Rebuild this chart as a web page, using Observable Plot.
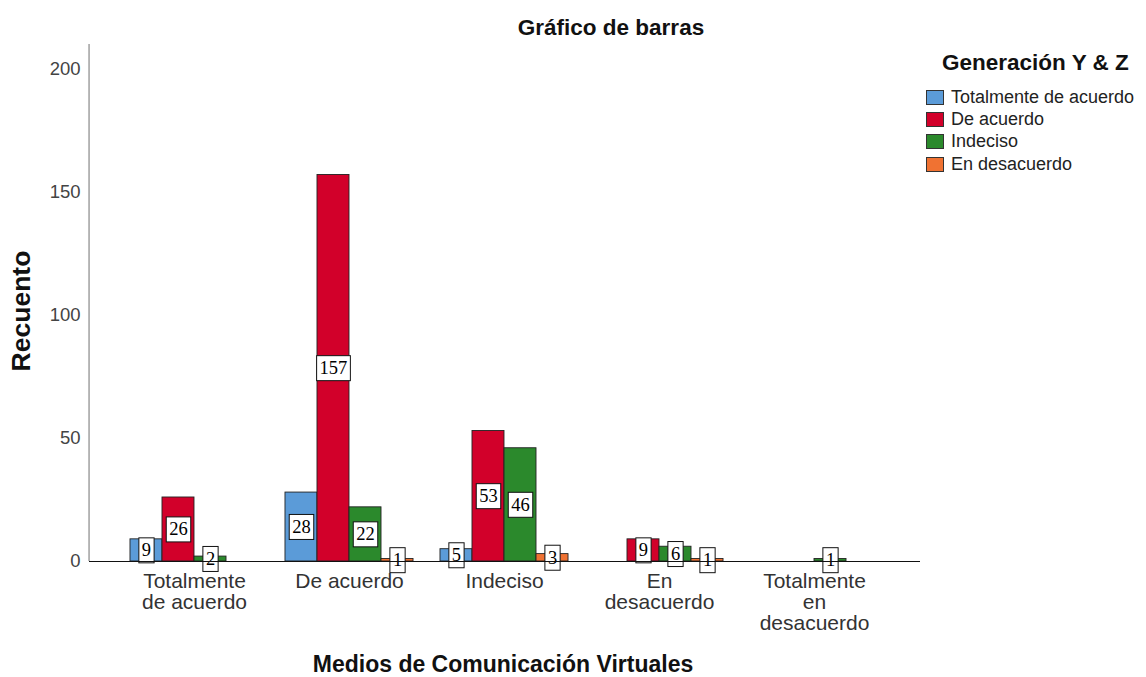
<!DOCTYPE html>
<html>
<head>
<meta charset="utf-8">
<script src="https://cdn.jsdelivr.net/npm/d3@7"></script>
<script src="https://cdn.jsdelivr.net/npm/@observablehq/plot@0.6"></script>
<style>
  html, body { margin: 0; padding: 0; background: #fff; }
  #wrap { position: relative; width: 1146px; height: 677px; overflow: hidden; font-family: "Liberation Sans", Arial, sans-serif; }
  .abs { position: absolute; white-space: nowrap; color: #111; }
  .lbl-box { fill: #fff; stroke: #111; stroke-width: 1; }
</style>
</head>
<body>
<div id="wrap">
  <div id="chart"></div>
  <div class="abs" id="title" style="left:511px; width:200px; top:17px; font-size:22.5px; line-height:22px; font-weight:bold; text-align:center;">Gráfico de barras</div>
  <div class="abs" id="ylab" style="left:21px; top:311px; font-size:26.5px; font-weight:bold; transform: translate(-50%,-50%) rotate(-90deg);">Recuento</div>
  <div class="abs" id="xlab" style="left:283px; width:440px; top:652px; font-size:23px; line-height:24px; font-weight:bold; text-align:center;">Medios de Comunicación Virtuales</div>
  <div class="abs" id="legend" style="left:926px; top:50px;"></div>
</div>
<script>
// ---- data ----
const categories = ["Totalmente de acuerdo", "De acuerdo", "Indeciso", "En desacuerdo", "Totalmente en desacuerdo"];
const categoryLabels = ["Totalmente\nde acuerdo", "De acuerdo", "Indeciso", "En\ndesacuerdo", "Totalmente\nen\ndesacuerdo"];
const series = ["Totalmente de acuerdo", "De acuerdo", "Indeciso", "En desacuerdo"];
const totalmenteDeAcuerdo = [9, 28, 5, 0, 0];
const deAcuerdo = [26, 157, 53, 9, 0];
const indeciso = [2, 22, 46, 6, 1];
const enDesacuerdo = [0, 1, 3, 1, 0];
const seriesColors = ["#5b9bd8", "#d2002a", "#2b892c", "#f07232"];
const yTicks = [0, 50, 100, 150, 200];
const legendTitle = "Generación Y & Z";

// ---- build table ----
const seriesValues = [totalmenteDeAcuerdo, deAcuerdo, indeciso, enDesacuerdo];
const rows = [];
series.forEach((s, si) => categories.forEach((c, ci) => rows.push({category: c, serie: s, si, value: seriesValues[si][ci]})));

// ---- layout ----
const W = 1146, H = 677;
const mL = 89, mR = 226, mT = 44, mB = 116;
const pInner = 0.7935, pOuter = 0.577;
const innerW = W - mL - mR;
const step = innerW / (categories.length - pInner + 2 * pOuter);
const bw = step * (1 - pInner);
const firstCenterOffset = step * pOuter + bw / 2;

const marks = [];
series.forEach((s, si) => {
  const data = rows.filter(r => r.si === si && r.value > 0);
  const dx = (si - 1.5) * bw;
  marks.push(Plot.barY(data, {x: "category", y: "value", fill: seriesColors[si], stroke: "#222", strokeWidth: 0.9, dx}));
});
series.forEach((s, si) => {
  const data = rows.filter(r => r.si === si && r.value > 0);
  const dx = (si - 1.5) * bw;
  marks.push(Plot.text(data, {x: "category", y: d => d.value / 2, text: d => String(d.value), dx,
    fontFamily: "Liberation Serif", fontSize: 18.5, fill: "#000", className: "vlabel"}));
});

const plot = Plot.plot({
  width: W, height: H,
  marginLeft: mL, marginRight: mR, marginTop: mT, marginBottom: mB,
  style: {fontFamily: "Liberation Sans, Arial, sans-serif", background: "transparent", color: "#333"},
  x: {domain: categories, paddingInner: pInner, paddingOuter: pOuter, align: 0.5, axis: null, label: null},
  y: {domain: [0, 210], axis: null, label: null},
  marks: [
    Plot.ruleX([categories[0]], {x: d => d, y1: 0, y2: 210, dx: -firstCenterOffset, stroke: "#888", strokeWidth: 1.2}),
    ...marks,
    Plot.ruleY([0], {stroke: "#111", strokeWidth: 1.2}),
    Plot.axisY(yTicks, {tickSize: 0, tickPadding: 9, fontSize: 18.5, fill: "#444", label: null}),
    Plot.axisX({tickSize: 0, tickPadding: 12, fontSize: 21, lineHeight: 1.0, fill: "#333", label: null,
      tickFormat: d => categoryLabels[categories.indexOf(d)]})
  ]
});
document.getElementById("chart").appendChild(plot);

// white boxes behind value labels
d3.select(plot).selectAll("g.vlabel text").each(function() {
  const b = this.getBBox();
  const padX = 3, padY = 2.5;
  const r = document.createElementNS("http://www.w3.org/2000/svg", "rect");
  r.setAttribute("class", "lbl-box");
  r.setAttribute("x", b.x - padX);
  r.setAttribute("y", b.y - padY);
  r.setAttribute("width", b.width + 2 * padX);
  r.setAttribute("height", b.height + 2 * padY);
  const t = this.getAttribute("transform");
  if (t) r.setAttribute("transform", t);
  this.parentNode.insertBefore(r, this);
});

// legend
const lg = d3.select("#legend");
lg.append("div").text(legendTitle)
  .style("position", "absolute").style("left", "16px").style("top", "0px")
  .style("font-size", "22.5px").style("font-weight", "bold").style("white-space", "nowrap");
series.forEach((s, i) => {
  const row = lg.append("div").style("position", "absolute").style("left", "0px")
    .style("top", (39 + i * 22.4) + "px").style("display", "flex").style("align-items", "center")
    .style("white-space", "nowrap").style("height", "16px");
  row.append("div").style("width", "18px").style("height", "15px").style("background", seriesColors[i])
    .style("border", "1px solid #333").style("box-sizing", "border-box");
  row.append("div").text(s).style("margin-left", "7px").style("font-size", "18px").style("color", "#222");
});
</script>
</body>
</html>
